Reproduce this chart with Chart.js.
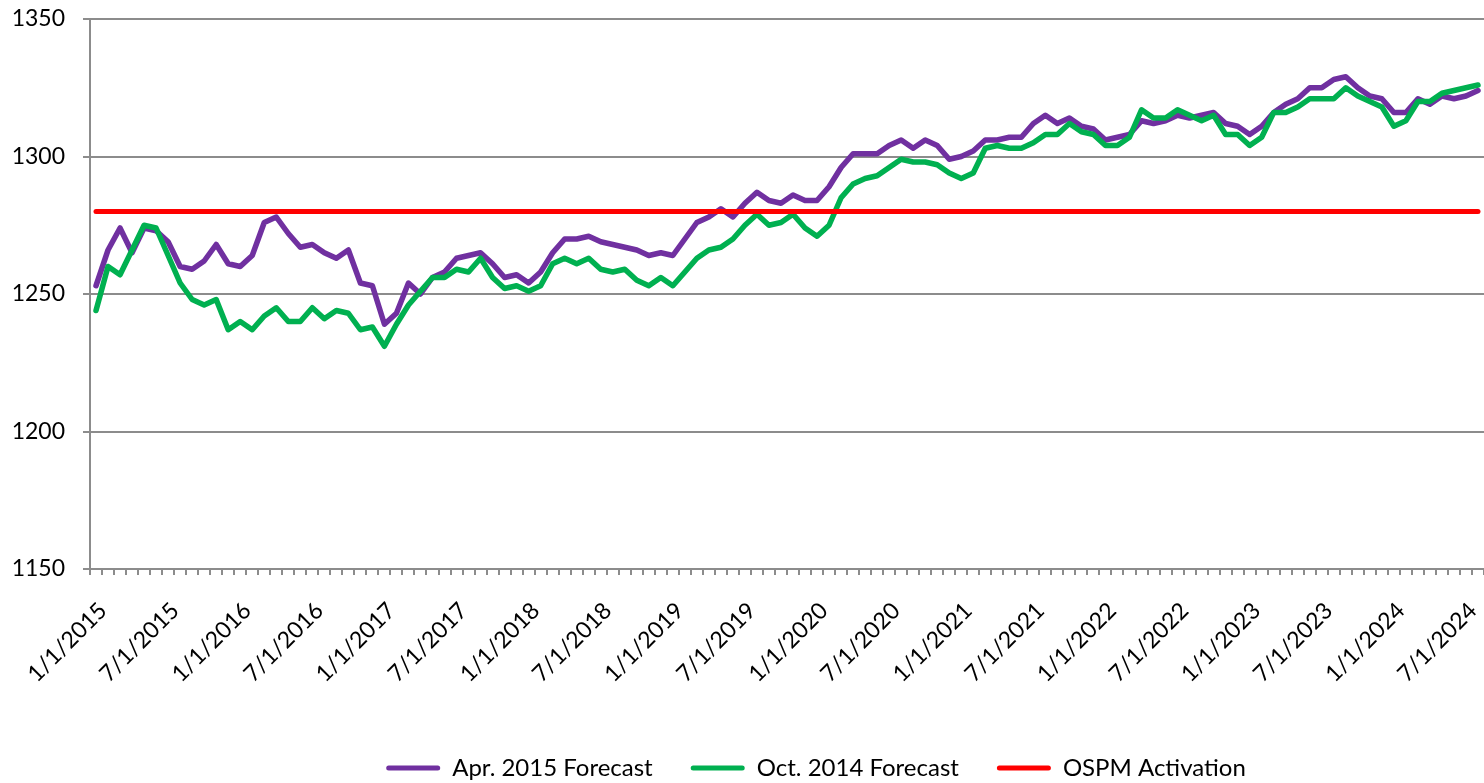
<!DOCTYPE html>
<html>
<head>
<meta charset="utf-8">
<script src="https://cdn.jsdelivr.net/npm/chart.js@4.4.1/dist/chart.umd.min.js"></script>
<style>
  body { margin: 0; background: #fff; }
  #wrap { width: 1484px; height: 783px; }
</style>
</head>
<body>
<div id="wrap"><canvas id="ForecastChart"></canvas></div>
<script>
// Monthly categories, Jan 2015 .. Aug 2024
const firstYear = 2015;
const monthCount = 116;
const labels = [];
for (let i = 0; i < monthCount; i++) {
  const m = (i % 12) + 1;
  const y = firstYear + Math.floor(i / 12);
  labels.push(`${m}/1/${y}`);
}

// Apr. 2015 Forecast
const aprForecast = [
  1253, 1266, 1274, 1265, 1274, 1273, 1269, 1260, 1259, 1262, 1268, 1261,
  1260, 1264, 1276, 1278, 1272, 1267, 1268, 1265, 1263, 1266, 1254, 1253,
  1239, 1243, 1254, 1250, 1256, 1258, 1263, 1264, 1265, 1261, 1256, 1257,
  1254, 1258, 1265, 1270, 1270, 1271, 1269, 1268, 1267, 1266, 1264, 1265,
  1264, 1270, 1276, 1278, 1281, 1278, 1283, 1287, 1284, 1283, 1286, 1284,
  1284, 1289, 1296, 1301, 1301, 1301, 1304, 1306, 1303, 1306, 1304, 1299,
  1300, 1302, 1306, 1306, 1307, 1307, 1312, 1315, 1312, 1314, 1311, 1310,
  1306, 1307, 1308, 1313, 1312, 1313, 1315, 1314, 1315, 1316, 1312, 1311,
  1308, 1311, 1316, 1319, 1321, 1325, 1325, 1328, 1329, 1325, 1322, 1321,
  1316, 1316, 1321, 1319, 1322, 1321, 1322, 1324
];

// Oct. 2014 Forecast
const octForecast = [
  1244, 1260, 1257, 1266, 1275, 1274, 1264, 1254, 1248, 1246, 1248, 1237,
  1240, 1237, 1242, 1245, 1240, 1240, 1245, 1241, 1244, 1243, 1237, 1238,
  1231, 1239, 1246, 1251, 1256, 1256, 1259, 1258, 1263, 1256, 1252, 1253,
  1251, 1253, 1261, 1263, 1261, 1263, 1259, 1258, 1259, 1255, 1253, 1256,
  1253, 1258, 1263, 1266, 1267, 1270, 1275, 1279, 1275, 1276, 1279, 1274,
  1271, 1275, 1285, 1290, 1292, 1293, 1296, 1299, 1298, 1298, 1297, 1294,
  1292, 1294, 1303, 1304, 1303, 1303, 1305, 1308, 1308, 1312, 1309, 1308,
  1304, 1304, 1307, 1317, 1314, 1314, 1317, 1315, 1313, 1315, 1308, 1308,
  1304, 1307, 1316, 1316, 1318, 1321, 1321, 1321, 1325, 1322, 1320, 1318,
  1311, 1313, 1320, 1320, 1323, 1324, 1325, 1326
];

// OSPM activation threshold (flat line)
const ospmLevel = 1280;
const ospmLine = labels.map(() => ospmLevel);

const gridColor = "#8c8c8c";
const fontFamily = "Lato, 'Open Sans', sans-serif";
const legendFontSize = 24;
const legendPadding = 38;

// the Excel legend sits a bit right of centre and low
const legendShift = {
  id: "legendShift",
  afterLayout(chart) {
    const lg = chart.legend;
    lg.left += 74;
    lg.right += 74;
    lg.top = 768 - legendPadding - legendFontSize / 2;
  },
};

const data = {
  labels: labels,
  datasets: [
    {
      label: "Apr. 2015 Forecast",
      data: aprForecast,
      borderColor: "#7030a0",
      backgroundColor: "#7030a0",
      borderWidth: 5.5,
      order: 2,
    },
    {
      label: "Oct. 2014 Forecast",
      data: octForecast,
      borderColor: "#00b050",
      backgroundColor: "#00b050",
      borderWidth: 5.5,
      order: 1,
    },
    {
      label: "OSPM Activation",
      data: ospmLine,
      borderColor: "#ff0000",
      backgroundColor: "#ff0000",
      borderWidth: 5,
      order: 0,
    },
  ],
};

const config = {
  type: "line",
  data: data,
  plugins: [legendShift],
  options: {
    responsive: true,
    maintainAspectRatio: false,
    animation: false,
    layout: {
      padding: { top: 19, right: 0, bottom: 0, left: 0 },
    },
    elements: {
      point: { radius: 0, hoverRadius: 0 },
      line: { tension: 0, borderCapStyle: "round", borderJoinStyle: "round" },
    },
    plugins: {
      tooltip: { enabled: false },
      legend: {
        position: "bottom",
        labels: {
          color: "#000",
          font: { family: fontFamily, size: legendFontSize },
          boxWidth: 54,
          boxHeight: 5,
          padding: legendPadding,
          generateLabels: (chart) =>
            chart.data.datasets.map((ds, i) => ({
              text: ds.label,
              fillStyle: ds.borderColor,
              strokeStyle: ds.borderColor,
              lineWidth: 0,
              borderRadius: 2.5,
              fontColor: "#000",
              hidden: false,
              datasetIndex: i,
            })),
        },
      },
    },
    scales: {
      x: {
        offset: true,
        afterFit: (scale) => {
          scale.height = 142;
          scale.paddingLeft = 0;
          scale.paddingRight = 0;
        },
        grid: {
          offset: true,
          drawOnChartArea: false,
          drawTicks: true,
          tickLength: 6,
          color: gridColor,
          lineWidth: 2,
        },
        border: { display: true, color: gridColor, width: 2 },
        ticks: {
          autoSkip: false,
          minRotation: 45,
          maxRotation: 45,
          padding: 22,
          labelOffset: 7,
          color: "#000",
          font: { family: fontFamily, size: 23 },
          callback: function (value, index) {
            return index % 6 === 0 ? this.getLabelForValue(value) : "";
          },
        },
      },
      y: {
        min: 1150,
        max: 1350,
        afterFit: (scale) => {
          scale.width = 90;
          scale.paddingTop = 0;
          scale.paddingBottom = 0;
        },
        grid: {
          color: gridColor,
          lineWidth: 2,
          tickLength: 7,
        },
        border: { display: true, color: gridColor, width: 2 },
        ticks: {
          stepSize: 50,
          padding: 18,
          color: "#000",
          font: { family: fontFamily, size: 23 },
          callback: (value) => String(value),
        },
      },
    },
  },
};

const forecastChart = new Chart(document.getElementById("ForecastChart"), config);
</script>
</body>
</html>
